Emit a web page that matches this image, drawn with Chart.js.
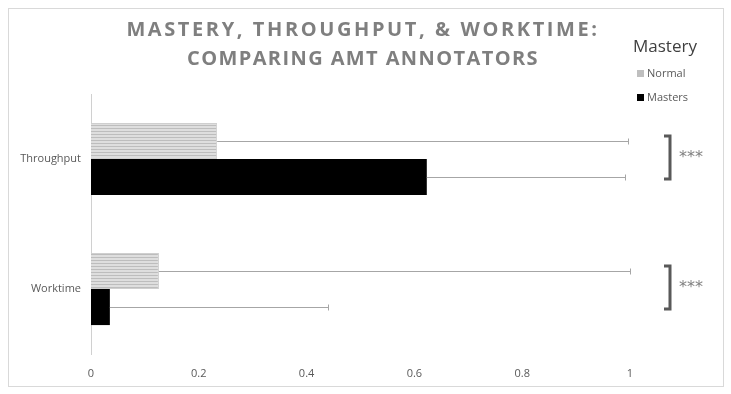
<!DOCTYPE html>
<html><head><meta charset="utf-8">
<script src="https://cdn.jsdelivr.net/npm/chart.js@4/dist/chart.umd.min.js"></script>
<style>html,body{margin:0;padding:0;background:#fff;}#wrap{width:731px;height:394px;position:relative;}</style>
</head><body><div id="wrap"><canvas id="c" width="731" height="394"></canvas></div>
<script>
const categories = ['Throughput', 'Worktime'];
const normalValues = [0.234, 0.126];
const mastersValues = [0.623, 0.035];
const normalErrHigh = [0.996, 1.0];
const mastersErrHigh = [0.99, 0.44];
const xTicks = [0, 0.2, 0.4, 0.6, 0.8, 1];
const titleLines = ['MASTERY, THROUGHPUT, & WORKTIME:', 'COMPARING AMT ANNOTATORS'];
const legendTitle = 'Mastery';
const seriesNames = ['Normal', 'Masters'];
const sigMarks = ['***', '***'];

function stripe() {
  const p = document.createElement('canvas'); p.width = 4; p.height = 3;
  const g = p.getContext('2d');
  g.fillStyle = '#dedede'; g.fillRect(0, 0, 4, 3);
  g.fillStyle = '#bdbdbd'; g.fillRect(0, 2, 4, 1);
  return g.createPattern(p, 'repeat');
}
const ctx0 = document.getElementById('c').getContext('2d');
const pat = stripe();

const decor = {
  id: 'decor',
  beforeDraw(chart) {
    const c = chart.ctx;
    c.save();
    c.fillStyle = '#fff'; c.fillRect(0, 0, chart.width, chart.height);
    c.strokeStyle = '#d9d9d9'; c.lineWidth = 1;
    c.strokeRect(8.5, 8.5, 715, 378);
    c.restore();
  },
  afterDatasetsDraw(chart) {
    const c = chart.ctx, xs = chart.scales.x;
    c.save();
    const errs = [normalErrHigh, mastersErrHigh];
    const vals = [normalValues, mastersValues];
    c.strokeStyle = '#a6a6a6'; c.lineWidth = 1;
    [0, 1].forEach(d => {
      const meta = chart.getDatasetMeta(d);
      meta.data.forEach((bar, i) => {
        const x0 = xs.getPixelForValue(vals[d][i]);
        const x1 = Math.round(xs.getPixelForValue(errs[d][i])) + 0.5;
        const y = Math.round(bar.y) + 0.5;
        c.beginPath(); c.moveTo(x0, y); c.lineTo(x1, y);
        c.moveTo(x1, y - 3); c.lineTo(x1, y + 3); c.stroke();
      });
    });
    // significance brackets
    const m0 = chart.getDatasetMeta(0), m1 = chart.getDatasetMeta(1);
    const bx = xs.getPixelForValue(1) + 40;
    c.strokeStyle = '#595959'; c.lineWidth = 3;
    c.fillStyle = '#808080';
    c.font = '16px "DejaVu Sans", sans-serif';
    c.letterSpacing = '0px';
    c.textBaseline = 'middle'; c.textAlign = 'left';
    categories.forEach((cat, i) => {
      const yt = m0.data[i].y - 5, yb = m1.data[i].y + 2;
      c.beginPath();
      c.moveTo(bx - 6, yt); c.lineTo(bx, yt); c.lineTo(bx, yb); c.lineTo(bx - 6, yb);
      c.stroke();
      c.fillText(sigMarks[i], bx + 9, (yt + yb) / 2);
    });
    // title
    c.fillStyle = '#7f7f7f';
    c.textAlign = 'center'; c.textBaseline = 'middle';
    c.font = 'bold 20px "Open Sans", sans-serif';
    c.letterSpacing = '2.6px';
    c.fillText(titleLines[0], 363, 30);
    c.letterSpacing = '1.4px';
    c.fillText(titleLines[1], 363, 59);
    c.letterSpacing = '0px';
    // legend
    c.textAlign = 'left';
    c.fillStyle = '#404040';
    c.font = '17px "Open Sans", sans-serif';
    c.fillText(legendTitle, 633, 47);
    c.font = '11px "Open Sans", sans-serif';
    c.fillStyle = '#bfbfbf'; c.fillRect(637, 70, 7, 7);
    c.fillStyle = '#000'; c.fillRect(637, 94, 7, 7);
    c.fillStyle = '#595959';
    c.fillText(seriesNames[0], 647, 73.5);
    c.fillText(seriesNames[1], 647, 97.5);
    c.restore();
  }
};

new Chart(ctx0, {
  type: 'bar',
  data: {
    labels: categories,
    datasets: [
      { label: seriesNames[0], data: normalValues, backgroundColor: pat, borderColor: '#cfcfcf', borderWidth: 1 },
      { label: seriesNames[1], data: mastersValues, backgroundColor: '#000000' }
    ]
  },
  options: {
    indexAxis: 'y',
    responsive: false,
    animation: false,
    devicePixelRatio: 1,
    layout: { padding: { top: 94, right: 101, bottom: 0, left: 0 } },
    datasets: { bar: { categoryPercentage: 0.555, barPercentage: 1.0 } },
    plugins: { legend: { display: false }, title: { display: false }, tooltip: { enabled: false } },
    scales: {
      x: {
        min: 0, max: 1,
        afterFit(s) { s.height = 40; },
        afterBuildTicks(s) { s.ticks = xTicks.map(v => ({ value: v })); },
        grid: { display: false, drawTicks: false },
        border: { display: false },
        ticks: { color: '#595959', padding: 13, font: { family: '"Open Sans", sans-serif', size: 11 }, maxRotation: 0,
          callback: v => String(v) }
      },
      y: {
        afterFit(s) { s.width = 91; },
        grid: { display: false, drawTicks: false },
        border: { display: true, color: '#d0d0d0', width: 1 },
        ticks: { color: '#595959', padding: 10, font: { family: '"Open Sans", sans-serif', size: 11 } }
      }
    }
  },
  plugins: [decor]
});
</script></body></html>
